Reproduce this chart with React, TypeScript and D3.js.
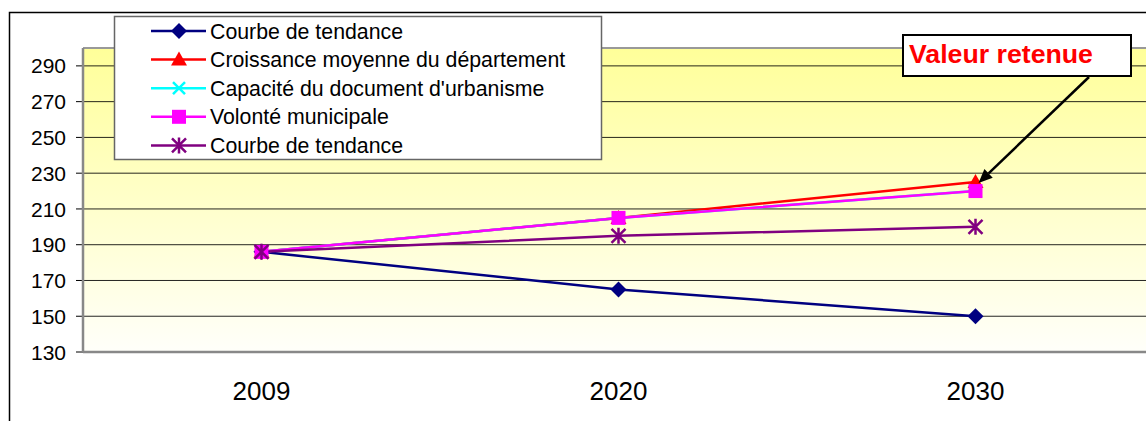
import React from "react";
import * as d3 from "d3";

const categories = ["2009", "2020", "2030"];
const yTicks = [130, 150, 170, 190, 210, 230, 250, 270, 290];
const seriesNames = [
  "Courbe de tendance",
  "Croissance moyenne du département",
  "Capacité du document d'urbanisme",
  "Volonté municipale",
  "Courbe de tendance",
];
const tendanceBasse = [186, 165, 150];
const croissanceDepartement = [186, 205, 225];
const capaciteDocument = [186, 205, 220];
const volonteMunicipale = [186, 205, 220];
const tendanceHaute = [186, 195, 200];
const seriesColors = ["#000080", "#FF0000", "#00FFFF", "#FF00FF", "#800080"];
const seriesMarkers = ["diamond", "triangle", "x", "square", "star"];
const annotationText = "Valeur retenue";

const seriesValues = [tendanceBasse, croissanceDepartement, capaciteDocument, volonteMunicipale, tendanceHaute];

function Marker({ type, x, y, color }: { type: string; x: number; y: number; color: string }) {
  if (type === "diamond") {
    const s = 8;
    return <path d={`M${x},${y - s}L${x + s},${y}L${x},${y + s}L${x - s},${y}Z`} fill={color} />;
  }
  if (type === "triangle") {
    const s = 8;
    return <path d={`M${x},${y - s}L${x + s},${y + s * 0.75}L${x - s},${y + s * 0.75}Z`} fill={color} />;
  }
  if (type === "square") {
    const s = 7;
    return <rect x={x - s} y={y - s} width={2 * s} height={2 * s} fill={color} />;
  }
  if (type === "x") {
    const s = 6;
    return (
      <path d={`M${x - s},${y - s}L${x + s},${y + s}M${x - s},${y + s}L${x + s},${y - s}`} stroke={color} strokeWidth={2.5} />
    );
  }
  // star
  const s = 7;
  return (
    <path
      d={`M${x - s},${y - s}L${x + s},${y + s}M${x - s},${y + s}L${x + s},${y - s}M${x},${y - s - 1}L${x},${y + s + 1}`}
      stroke={color}
      strokeWidth={2.5}
    />
  );
}

export default function App() {
  const W = 1146;
  const H = 421;
  const plotLeft = 83;
  const plotTop = 48;
  const plotBottom = 352;
  const plotRight = 83 + 3 * 357;

  const x = d3.scaleBand<string>().domain(categories).range([plotLeft, plotRight]);
  const y = d3.scaleLinear().domain([130, 300]).range([plotBottom, plotTop]);
  const cx = (c: string) => (x(c) as number) + x.bandwidth() / 2;

  const line = d3
    .line<number>()
    .x((_, i) => cx(categories[i]))
    .y((d) => y(d));

  const font = "Arial, 'Liberation Sans', sans-serif";

  // annotation arrow
  const arrowEnd = { x: cx("2030") + 3, y: y(croissanceDepartement[2]) + 1 };
  const arrowStart = { x: 1089, y: 77 };
  const ang = Math.atan2(arrowEnd.y - arrowStart.y, arrowEnd.x - arrowStart.x);
  const ah = 14;
  const aw = 6;
  const bx = arrowEnd.x - ah * Math.cos(ang);
  const by = arrowEnd.y - ah * Math.sin(ang);
  const p1 = { x: bx + aw * Math.sin(ang), y: by - aw * Math.cos(ang) };
  const p2 = { x: bx - aw * Math.sin(ang), y: by + aw * Math.cos(ang) };

  return (
    <svg width={W} height={H} style={{ position: "absolute", left: 0, top: 0, fontFamily: font }}>
      <defs>
        <linearGradient id="bg" x1="0" y1="0" x2="0" y2="1">
          <stop offset="0" stopColor="#FFFF99" />
          <stop offset="1" stopColor="#FFFFFA" />
        </linearGradient>
      </defs>
      <rect x={0} y={0} width={W} height={H} fill="#fff" />
      {/* outer border */}
      <rect x={9.5} y={12.5} width={W + 10} height={H + 10} fill="none" stroke="#000" strokeWidth={1.5} />
      {/* plot area */}
      <rect x={plotLeft} y={plotTop} width={plotRight - plotLeft} height={plotBottom - plotTop} fill="url(#bg)" />
      <line x1={plotLeft} x2={plotRight} y1={plotTop} y2={plotTop} stroke="#999" strokeWidth={2} />
      {/* gridlines */}
      {yTicks.map((t) => (
        <g key={t}>
          {t !== 130 && (
            <line x1={plotLeft} x2={plotRight} y1={y(t)} y2={y(t)} stroke="#000" strokeWidth={1} opacity={0.85} />
          )}
          <line x1={plotLeft - 7} x2={plotLeft} y1={y(t)} y2={y(t)} stroke="#000" strokeWidth={1} />
          <text x={66} y={y(t)} dy="0.36em" textAnchor="end" fontSize={21} fill="#000">
            {t}
          </text>
        </g>
      ))}
      {/* axes (grey shadowed) */}
      <line x1={plotLeft} x2={plotLeft} y1={plotTop} y2={plotBottom} stroke="#888" strokeWidth={2.5} />
      <line x1={plotLeft} x2={plotRight} y1={plotBottom} y2={plotBottom} stroke="#888" strokeWidth={2.5} />
      {categories.map((c) => (
        <text key={c} x={cx(c)} y={400} textAnchor="middle" fontSize={26} fill="#000">
          {c}
        </text>
      ))}
      {/* series lines */}
      {seriesValues.map((vals, i) => (
        <path key={"l" + i} d={line(vals) || ""} fill="none" stroke={seriesColors[i]} strokeWidth={2.5} />
      ))}
      {seriesValues.map((vals, i) => (
        <g key={"m" + i}>
          {vals.map((v, j) => (
            <Marker key={j} type={seriesMarkers[i]} x={cx(categories[j])} y={y(v)} color={seriesColors[i]} />
          ))}
        </g>
      ))}
      {/* legend */}
      <rect x={114.5} y={16.5} width={487} height={143} fill="#fff" stroke="#666" strokeWidth={1.5} />
      {seriesNames.map((n, i) => {
        const ly = 31 + i * 28.6;
        return (
          <g key={"lg" + i}>
            <line x1={151} x2={206} y1={ly} y2={ly} stroke={seriesColors[i]} strokeWidth={2.5} />
            <Marker type={seriesMarkers[i]} x={179} y={ly} color={seriesColors[i]} />
            <text x={210} y={ly} dy="0.36em" fontSize={21.3} fill="#000">
              {n}
            </text>
          </g>
        );
      })}
      {/* annotation */}
      <line x1={arrowStart.x} y1={arrowStart.y} x2={bx} y2={by} stroke="#000" strokeWidth={2.5} />
      <path d={`M${arrowEnd.x},${arrowEnd.y}L${p1.x},${p1.y}L${p2.x},${p2.y}Z`} fill="#000" />
      <rect x={903} y={35} width={228} height={41} fill="#fff" stroke="#000" strokeWidth={2} />
      <text x={909} y={63} fontSize={26.7} fontWeight="bold" fill="#FF0000">
        {annotationText}
      </text>
    </svg>
  );
}
